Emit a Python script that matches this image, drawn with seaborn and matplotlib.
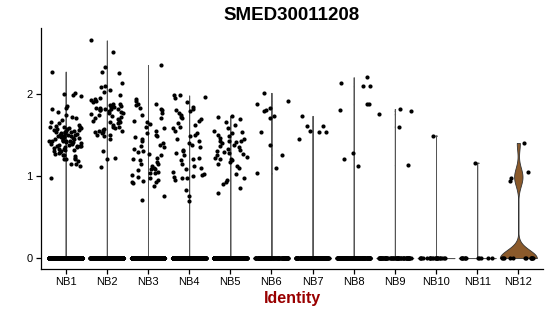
import numpy as np
import pandas as pd
import matplotlib
matplotlib.use("Agg")
import matplotlib.pyplot as plt
import seaborn as sns

# ---------------- data ----------------
identities = ["NB1", "NB2", "NB3", "NB4", "NB5", "NB6",
              "NB7", "NB8", "NB9", "NB10", "NB11", "NB12"]

nb1 = [2.27, 2.01, 2.00, 1.99, 1.97, 1.85, 1.83, 1.81, 1.78, 1.74, 1.72, 1.70,
       1.68, 1.66, 1.64, 1.62, 1.61, 1.60, 1.60, 1.59, 1.58, 1.58, 1.57, 1.57,
       1.56, 1.56, 1.55, 1.55, 1.54, 1.54, 1.53, 1.53, 1.52, 1.52, 1.51, 1.51,
       1.50, 1.50, 1.50, 1.49, 1.49, 1.48, 1.48, 1.47, 1.47, 1.46, 1.46, 1.46,
       1.45, 1.45, 1.44, 1.44, 1.43, 1.43, 1.42, 1.42, 1.42, 1.41, 1.41, 1.40,
       1.40, 1.39, 1.39, 1.38, 1.38, 1.37, 1.37, 1.36, 1.36, 1.35, 1.35, 1.34,
       1.33, 1.33, 1.32, 1.31, 1.30, 1.30, 1.29, 1.28, 1.27, 1.26, 1.25, 1.24,
       1.22, 1.21, 1.20, 1.20, 1.18, 1.15, 1.14, 1.12, 0.97]
nb2 = [2.65, 2.51, 2.33, 2.27, 2.25, 2.13, 2.10, 2.08, 2.04, 2.02, 1.98, 1.95,
       1.93, 1.92, 1.91, 1.90, 1.88, 1.87, 1.86, 1.85, 1.84, 1.84, 1.83, 1.83,
       1.82, 1.82, 1.81, 1.81, 1.80, 1.80, 1.79, 1.78, 1.77, 1.76, 1.75, 1.74,
       1.73, 1.72, 1.70, 1.69, 1.68, 1.67, 1.66, 1.65, 1.64, 1.62, 1.60, 1.59,
       1.58, 1.57, 1.56, 1.55, 1.55, 1.54, 1.53, 1.52, 1.50, 1.50, 1.49, 1.45,
       1.30, 1.22, 1.21, 1.11]
nb3 = [2.35, 1.93, 1.91, 1.88, 1.88, 1.86, 1.83, 1.82, 1.80, 1.76, 1.74, 1.70,
       1.67, 1.65, 1.63, 1.60, 1.58, 1.55, 1.52, 1.50, 1.48, 1.47, 1.45, 1.42,
       1.40, 1.38, 1.36, 1.35, 1.33, 1.30, 1.29, 1.27, 1.25, 1.22, 1.20, 1.19,
       1.17, 1.15, 1.14, 1.12, 1.10, 1.09, 1.08, 1.07, 1.05, 1.04, 1.03, 1.01,
       0.99, 0.97, 0.95, 0.94, 0.93, 0.92, 0.91, 0.88, 0.76, 0.71]
nb4 = [1.98, 1.96, 1.98, 1.95, 1.90, 1.84, 1.82, 1.80, 1.79, 1.76, 1.74, 1.72,
       1.70, 1.69, 1.67, 1.64, 1.62, 1.60, 1.58, 1.55, 1.52, 1.50, 1.48, 1.45,
       1.42, 1.40, 1.38, 1.35, 1.32, 1.30, 1.28, 1.25, 1.22, 1.21, 1.19, 1.15,
       1.12, 1.10, 1.08, 1.05, 1.02, 1.01, 1.00, 0.99, 0.98, 0.97, 0.95, 0.83,
       0.76, 0.69]
nb5 = [1.73, 1.72, 1.69, 1.66, 1.62, 1.58, 1.55, 1.53, 1.52, 1.50, 1.48, 1.46,
       1.45, 1.43, 1.42, 1.42, 1.41, 1.40, 1.38, 1.37, 1.35, 1.33, 1.31, 1.30,
       1.29, 1.28, 1.27, 1.25, 1.23, 1.22, 1.21, 1.20, 1.19, 1.17, 1.14, 1.12,
       1.10, 1.02, 0.97, 0.95, 0.92, 0.90, 0.85, 0.79]
nb6 = [2.01, 1.91, 1.87, 1.83, 1.80, 1.79, 1.73, 1.71, 1.54, 1.38, 1.26, 1.10,
       1.03]
nb7 = [1.73, 1.61, 1.61, 1.55, 1.54, 1.54, 1.45]
nb8 = [2.20, 2.13, 2.10, 2.09, 1.88, 1.87, 1.80, 1.28, 1.20, 1.12]
nb9 = [1.81, 1.79, 1.75, 1.60, 1.13]
nb10 = [1.49]
nb11 = [1.16]
nb12 = [1.40, 1.05, 0.98, 0.94]

nonzero_values = [nb1, nb2, nb3, nb4, nb5, nb6, nb7, nb8, nb9, nb10, nb11, nb12]
zero_counts = [1500, 1500, 1500, 1500, 1500, 120, 150, 150, 60, 22, 12, 12]

# ---------------- build table ----------------
rows = []
for name, vals, nz in zip(identities, nonzero_values, zero_counts):
    for v in vals:
        rows.append((name, v))
    for _ in range(nz):
        rows.append((name, 0.0))
df = pd.DataFrame(rows, columns=["Identity", "expr"])

# ---------------- style ----------------
sns.set_theme(style="ticks")
plt.rcParams['font.family'] = ['Liberation Sans', 'DejaVu Sans']
plt.rcParams['text.color'] = 'black'

W, H = 550, 316
fig = plt.figure(figsize=(W / 100, H / 100), dpi=100)
ax = fig.add_axes([41 / W, 1 - 269 / H, (543 - 41) / W, (269 - 28) / H])

brown = "#8B5A2B"

thin = df[df.Identity != "NB12"]
thick = df[df.Identity == "NB12"]

sns.violinplot(data=thin, x="Identity", y="expr", order=identities, cut=0,
               bw_method=0.001, density_norm="width", width=0.9, inner=None,
               color=brown, saturation=1, linecolor="#555555", linewidth=0.7,
               gridsize=1000, ax=ax)
sns.violinplot(data=thick, x="Identity", y="expr", order=identities, cut=0,
               bw_method=0.2, density_norm="width", width=0.9, inner=None,
               color=brown, saturation=1, linecolor="#333333", linewidth=0.6,
               gridsize=300, ax=ax)

np.random.seed(7)
sns.stripplot(data=df, x="Identity", y="expr", order=identities, jitter=0.4,
              color="black", size=3.0, linewidth=0, ax=ax, zorder=3)

ax.set_xlim(-0.6, 11.6)
ax.set_ylim(-0.133, 2.80)
ax.set_yticks([0, 1, 2])
ax.set_yticklabels(["0", "1", "2"])
ax.set_ylabel("")
ax.set_xlabel("Identity", fontsize=11.5, fontweight="bold", color="#990000",
              labelpad=2.5)
ax.set_title("SMED30011208", fontsize=13.5, fontweight="bold", pad=5.5,
             color="black")

sns.despine(ax=ax)
for s in ["left", "bottom"]:
    ax.spines[s].set_linewidth(0.9)
    ax.spines[s].set_color("black")
ax.tick_params(axis="both", direction="out", length=3.5, width=0.9,
               color="black", labelsize=8, labelcolor="black", pad=2.5)
ax.grid(False)

fig.savefig("out.png", dpi=100, facecolor="white")
